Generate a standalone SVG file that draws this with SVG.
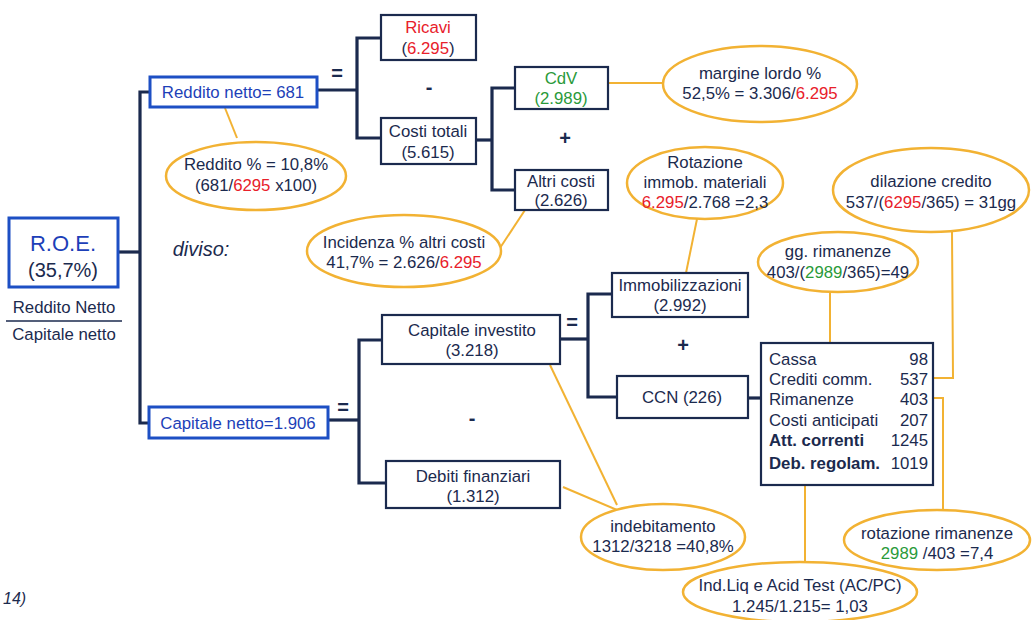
<svg xmlns="http://www.w3.org/2000/svg" width="1032" height="620" viewBox="0 0 1032 620">
<style>
text{font-family:"Liberation Sans",Arial,sans-serif;font-size:16.8px;fill:#1b2a4e;text-anchor:middle}
.box{fill:#fff;stroke:#1b2a4e;stroke-width:2.2}
.bbox{fill:#fff;stroke:#1d4fc4;stroke-width:3}
.ell{fill:#fff;stroke:#f2b233;stroke-width:2.5}
.con{fill:none;stroke:#1b2a4e;stroke-width:3.2}
.oc{fill:none;stroke:#f2b233;stroke-width:2}
.blue{fill:#1d3fb8}
.r{fill:#e8202a}
.g{fill:#2a9a3a}
.op{font-size:20px;font-weight:bold}
.l{text-anchor:start}
.e{text-anchor:end}
.b{font-weight:bold}
</style>
<rect width="1032" height="620" fill="#fff"/>
<g id="connectors">
<polyline class="con" points="118,252 140,252"/>
<polyline class="con" points="150,92 140,92 140,423 150,423"/>
<polyline class="con" points="317,90 357,90"/>
<polyline class="con" points="381,38 357,38 357,138 381,138"/>
<polyline class="con" points="476,140 492,140"/>
<polyline class="con" points="515,88 492,88 492,190 515,190"/>
<polyline class="con" points="328,420 359,420"/>
<polyline class="con" points="382,340 359,340 359,483 386,483"/>
<polyline class="con" points="560,339 588,339"/>
<polyline class="con" points="612,294 588,294 588,397 617,397"/>
<polyline class="con" points="748,398 761,398"/>
<line class="oc" x1="608" y1="83" x2="664" y2="83"/>
<line class="oc" x1="225" y1="108" x2="237" y2="138"/>
<line class="oc" x1="525" y1="210" x2="500" y2="248"/>
<line class="oc" x1="697" y1="219" x2="686" y2="273"/>
<line class="oc" x1="830" y1="292" x2="830" y2="343"/>
<polyline class="oc" points="952,231 953,378 933,378"/>
<polyline class="oc" points="933,398 943,398 943,510"/>
<line class="oc" x1="805" y1="485" x2="805" y2="562"/>
<line class="oc" x1="550" y1="365" x2="617" y2="505"/>
<line class="oc" x1="563" y1="487" x2="617" y2="510"/>
<text class="op" x="337" y="80">=</text>
<text class="op" x="429" y="94">-</text>
<text class="op" x="565" y="145">+</text>
<text class="op" x="343" y="414">=</text>
<text class="op" x="472" y="425">-</text>
<text class="op" x="572" y="329">=</text>
<text class="op" x="683" y="352">+</text>
</g>
<g id="roe">
<rect class="bbox" x="9" y="218" width="109" height="69"/>
<text class="blue" x="63" y="251" style="font-size:22px">R.O.E.</text>
<text x="63" y="277" style="font-size:20px">(35,7%)</text>
<text x="64" y="313">Reddito Netto</text>
<line x1="6" y1="321" x2="122" y2="321" stroke="#1b2a4e" stroke-width="1.5"/>
<text x="64" y="340">Capitale netto</text>
</g>
<g id="diviso"><text x="201" y="256" style="font-size:20px;font-style:italic">diviso:</text></g>
<g id="reddito-netto">
<rect class="bbox" x="150" y="77" width="167" height="30"/>
<text class="blue" x="233" y="98">Reddito netto= 681</text>
</g>
<g id="ricavi">
<rect class="box" x="381" y="15" width="95" height="45"/>
<text class="r" x="428" y="33">Ricavi</text>
<text x="428" y="54">(<tspan class="r">6.295</tspan>)</text>
</g>
<g id="costi-totali">
<rect class="box" x="381" y="118" width="95" height="46"/>
<text x="428" y="137">Costi totali</text>
<text x="428" y="158">(5.615)</text>
</g>
<g id="cdv">
<rect class="box" x="515" y="67" width="93" height="42"/>
<text class="g" x="561" y="84">CdV</text>
<text class="g" x="561" y="104">(2.989)</text>
</g>
<g id="altri-costi">
<rect class="box" x="515" y="170" width="93" height="40"/>
<text x="561" y="187">Altri costi</text>
<text x="561" y="206">(2.626)</text>
</g>
<g id="margine">
<ellipse class="ell" cx="760" cy="84" rx="97" ry="38"/>
<text x="760" y="79">margine lordo %</text>
<text x="760" y="99">52,5% = 3.306/<tspan class="r">6.295</tspan></text>
</g>
<g id="reddito-perc">
<ellipse class="ell" cx="256" cy="176" rx="90" ry="34"/>
<text x="256" y="170">Reddito % = 10,8%</text>
<text x="256" y="191">(681/<tspan class="r">6295</tspan> x100)</text>
</g>
<g id="incidenza">
<ellipse class="ell" cx="404" cy="251" rx="97" ry="36"/>
<text x="404" y="248">Incidenza % altri costi</text>
<text x="404" y="268">41,7% = 2.626/<tspan class="r">6.295</tspan></text>
</g>
<g id="rotazione-immob">
<ellipse class="ell" cx="705" cy="183" rx="78" ry="36"/>
<text x="705" y="168">Rotazione</text>
<text x="705" y="188">immob. materiali</text>
<text x="705" y="208"><tspan class="r">6.295</tspan>/2.768 =2,3</text>
</g>
<g id="dilazione">
<ellipse class="ell" cx="931" cy="190" rx="98" ry="42"/>
<text x="931" y="187">dilazione credito</text>
<text x="931" y="208">537/(<tspan class="r">6295</tspan>/365) = 31gg</text>
</g>
<g id="gg-rimanenze">
<ellipse class="ell" cx="838" cy="262" rx="80" ry="30"/>
<text x="838" y="257">gg. rimanenze</text>
<text x="838" y="278">403/(<tspan class="g">2989</tspan>/365)=49</text>
</g>
<g id="immobilizzazioni">
<rect class="box" x="612" y="273" width="136" height="44"/>
<text x="680" y="291">Immobilizzazioni</text>
<text x="680" y="311">(2.992)</text>
</g>
<g id="ccn">
<rect class="box" x="617" y="376" width="131" height="42"/>
<text x="682" y="403">CCN (226)</text>
</g>
<g id="capitale-investito">
<rect class="box" x="382" y="315" width="178" height="49"/>
<text x="472" y="336">Capitale investito</text>
<text x="472" y="356">(3.218)</text>
</g>
<g id="debiti-finanziari">
<rect class="box" x="386" y="461" width="174" height="47"/>
<text x="473" y="482">Debiti finanziari</text>
<text x="473" y="502">(1.312)</text>
</g>
<g id="capitale-netto">
<rect class="bbox" x="149" y="407" width="179" height="31"/>
<text class="blue" x="238" y="429">Capitale netto=1.906</text>
</g>
<g id="ccn-dettaglio">
<rect class="box" x="761" y="343" width="172" height="142"/>
<text class="l" x="769" y="365">Cassa</text><text class="e" x="928" y="365">98</text>
<text class="l" x="769" y="385">Crediti comm.</text><text class="e" x="928" y="385">537</text>
<text class="l" x="769" y="405">Rimanenze</text><text class="e" x="928" y="405">403</text>
<text class="l" x="769" y="426">Costi anticipati</text><text class="e" x="928" y="426">207</text>
<text class="l b" x="769" y="446">Att. correnti</text><text class="e" x="928" y="446">1245</text>
<text class="l b" x="769" y="469">Deb. regolam.</text><text class="e" x="928" y="469">1019</text>
</g>
<g id="rotazione-rimanenze">
<ellipse class="ell" cx="937" cy="540" rx="93" ry="30"/>
<text x="937" y="539">rotazione rimanenze</text>
<text x="937" y="559"><tspan class="g">2989</tspan> /403 =7,4</text>
</g>
<g id="indebitamento">
<ellipse class="ell" cx="663" cy="537" rx="82" ry="33"/>
<text x="663" y="532">indebitamento</text>
<text x="663" y="552">1312/3218 =40,8%</text>
</g>
<g id="ind-liq">
<ellipse class="ell" cx="800" cy="592" rx="117" ry="30"/>
<text x="800" y="591">Ind.Liq e Acid Test (AC/PC)</text>
<text x="800" y="612">1.245/1.215= 1,03</text>
</g>
<g id="page"><text class="l" x="3" y="604" style="font-style:italic;font-size:16px">14)</text></g>
</svg>
